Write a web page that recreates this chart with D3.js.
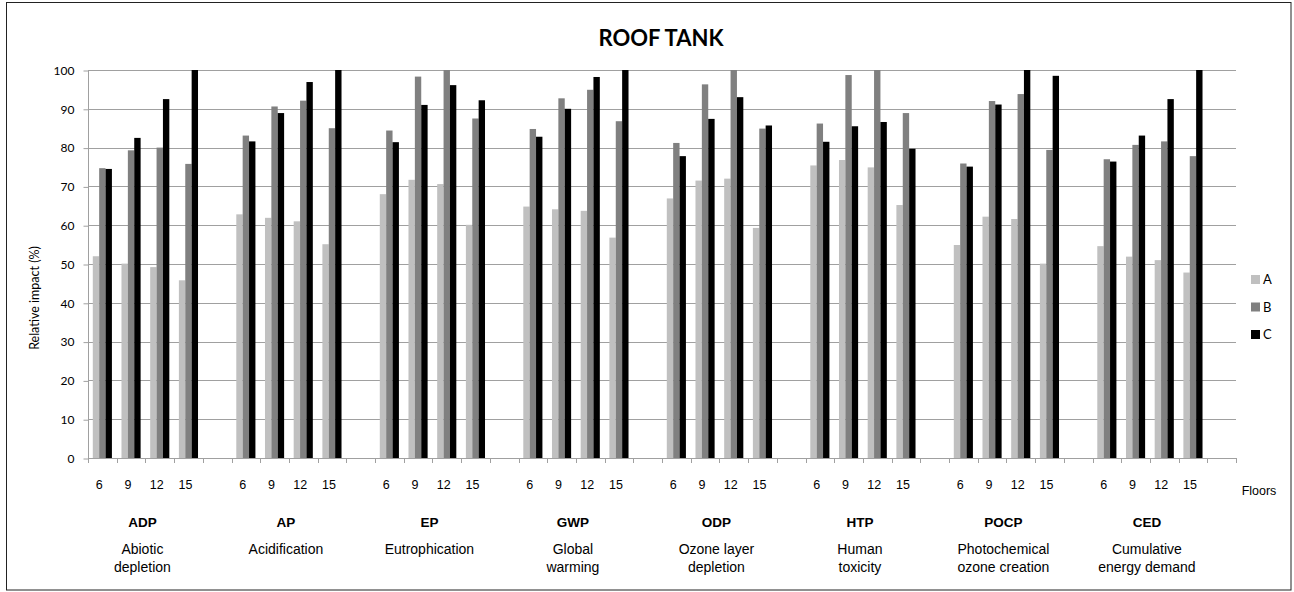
<!DOCTYPE html>
<html>
<head>
<meta charset="utf-8">
<script src="https://cdn.jsdelivr.net/npm/d3@7"></script>
<style>
  html, body { margin: 0; padding: 0; background: #fff; }
  svg { display: block; }
</style>
</head>
<body>
<svg id="chart" width="1294" height="592"></svg>
<script>
// ---- data ----
const floors = ["6", "9", "12", "15"];
const impactCodes = ["ADP", "AP", "EP", "GWP", "ODP", "HTP", "POCP", "CED"];
const impactNames = [
  ["Abiotic", "depletion"], ["Acidification"], ["Eutrophication"], ["Global", "warming"],
  ["Ozone layer", "depletion"], ["Human", "toxicity"], ["Photochemical", "ozone creation"],
  ["Cumulative", "energy demand"]
];
const seriesNames = ["A", "B", "C"];
const seriesA = [52.0, 50.1, 49.2, 45.8, 62.8, 61.9, 61.0, 55.1, 68.0, 71.7, 70.6, 60.1,
  64.8, 64.1, 63.7, 56.8, 66.9, 71.5, 72.0, 59.3, 75.4, 76.8, 74.9, 65.2,
  54.9, 62.2, 61.6, 50.1, 54.6, 51.9, 51.0, 47.8];
const seriesB = [74.7, 79.3, 80.0, 75.8, 83.1, 90.6, 92.1, 85.0, 84.4, 98.3, 100, 87.5,
  84.8, 92.7, 94.9, 86.8, 81.2, 96.3, 100, 84.9, 86.2, 98.7, 100, 88.9,
  75.9, 92.0, 93.8, 79.4, 77.0, 80.7, 81.6, 77.8];
const seriesC = [74.5, 82.5, 92.5, 100, 81.6, 88.9, 96.9, 100, 81.4, 91.0, 96.1, 92.2,
  82.8, 90.0, 98.2, 100, 77.8, 87.4, 93.0, 85.7, 81.5, 85.5, 86.6, 79.7,
  75.1, 91.1, 100, 98.5, 76.4, 83.1, 92.5, 100];
const yTicks = [0, 10, 20, 30, 40, 50, 60, 70, 80, 90, 100];
const title = "ROOF TANK";
const yTitle = "Relative impact (%)";
const xTitle = "Floors";

// ---- build tables ----
const categories = [];
impactCodes.forEach(code => {
  floors.forEach(f => categories.push({ key: code + "|" + f, code, floor: f }));
  categories.push({ key: code + "|", code, floor: "" });
});
const seriesValues = { A: seriesA, B: seriesB, C: seriesC };
const colors = { A: "#c0c0c0", B: "#808080", C: "#000000" };
const bars = [];
impactCodes.forEach((code, gi) => {
  floors.forEach((f, fi) => {
    seriesNames.forEach(s => {
      bars.push({ key: code + "|" + f, series: s, value: seriesValues[s][gi * 4 + fi] });
    });
  });
});

// ---- layout ----
const svg = d3.select("#chart");
const plot = { left: 88, right: 1236, top: 70, bottom: 458 };

svg.append("rect").attr("x", 6.5).attr("y", 2.5).attr("width", 1284.5).attr("height", 587.5)
  .attr("fill", "#fff").attr("stroke", "#222").attr("stroke-width", 1);

const x = d3.scaleBand().domain(categories.map(d => d.key)).range([plot.left, plot.right]).paddingInner(0).paddingOuter(0);
const xs = d3.scaleBand().domain(seriesNames).range([0, x.bandwidth()]).paddingInner(0).paddingOuter(0.75);
const y = d3.scaleLinear().domain([0, 100]).range([plot.bottom, plot.top]);

const gridColor = "#a0a0a0";

// gridlines
svg.append("g").selectAll("line").data(yTicks.filter(t => t > 0)).join("line")
  .attr("x1", plot.left).attr("x2", plot.right)
  .attr("y1", d => Math.round(y(d)) + 0.5).attr("y2", d => Math.round(y(d)) + 0.5)
  .attr("stroke", gridColor).attr("stroke-width", 1);

// y axis
const yAxis = d3.axisLeft(y).tickValues(yTicks).tickSize(5).tickPadding(9).tickFormat(d3.format("d"));
const gy = svg.append("g").attr("transform", `translate(${plot.left + 0.5},0.5)`).call(yAxis);
gy.select(".domain").attr("stroke", gridColor).attr("d", `M0,${plot.top - 0.5}V${plot.bottom}`);
gy.selectAll(".tick line").attr("stroke", gridColor);
gy.selectAll(".tick text").attr("font-family", "Lato, 'Open Sans', sans-serif").attr("font-size", 12).attr("fill", "#000");

// bars
svg.append("g").selectAll("rect").data(bars).join("rect")
  .attr("x", d => x(d.key) + xs(d.series))
  .attr("width", xs.bandwidth())
  .attr("y", d => y(d.value))
  .attr("height", d => y(0) - y(d.value))
  .attr("fill", d => colors[d.series]);

// x axis line and ticks
svg.append("line").attr("x1", plot.left).attr("x2", plot.right)
  .attr("y1", plot.bottom + 0.5).attr("y2", plot.bottom + 0.5).attr("stroke", gridColor);
const tickXs = categories.map(d => x(d.key)).concat([plot.right]);
svg.append("g").selectAll("line").data(tickXs).join("line")
  .attr("x1", d => Math.round(d) + 0.5).attr("x2", d => Math.round(d) + 0.5)
  .attr("y1", plot.bottom).attr("y2", plot.bottom + 5).attr("stroke", gridColor);

// floor labels
svg.append("g").selectAll("text").data(categories.filter(d => d.floor !== "")).join("text")
  .attr("x", d => x(d.key) + x.bandwidth() / 2 - 3)
  .attr("y", 488.5)
  .attr("text-anchor", "middle")
  .attr("font-family", "'Liberation Sans', Arial, sans-serif").attr("font-size", 12.5)
  .text(d => d.floor);

// group labels
impactCodes.forEach((code, gi) => {
  const cx = x(code + "|" + floors[0]) + 2 * x.bandwidth() - 3;
  svg.append("text").attr("x", cx).attr("y", 527)
    .attr("text-anchor", "middle").attr("font-family", "'Liberation Sans', Arial, sans-serif")
    .attr("font-size", 13.5).attr("font-weight", "bold").text(code);
  impactNames[gi].forEach((line, li) => {
    svg.append("text").attr("x", cx).attr("y", 554 + li * 17.5)
      .attr("text-anchor", "middle").attr("font-family", "'Liberation Sans', Arial, sans-serif")
      .attr("font-size", 14).text(line);
  });
});

// x title
svg.append("text").attr("x", 1259).attr("y", 494.5).attr("text-anchor", "middle")
  .attr("font-family", "'Liberation Sans', Arial, sans-serif").attr("font-size", 12.5).text(xTitle);

// title
svg.append("text").attr("x", 661).attr("y", 46).attr("text-anchor", "middle")
  .attr("font-family", "Lato, 'Open Sans', sans-serif").attr("font-weight", "bold")
  .attr("font-size", 22).text(title);

// y title
svg.append("text").attr("transform", "translate(39,298) rotate(-90)").attr("text-anchor", "middle")
  .attr("font-family", "Lato, 'Open Sans', sans-serif").attr("font-size", 12.5).text(yTitle);

// legend
const legend = svg.append("g").selectAll("g").data(seriesNames).join("g")
  .attr("transform", (d, i) => `translate(1251,${275 + i * 27.5})`);
legend.append("rect").attr("width", 9).attr("height", 9).attr("fill", d => colors[d]);
legend.append("text").attr("x", 12).attr("y", 4.5).attr("dy", "0.36em")
  .attr("font-family", "Lato, 'Open Sans', sans-serif").attr("font-size", 13).text(d => d);
</script>
</body>
</html>
